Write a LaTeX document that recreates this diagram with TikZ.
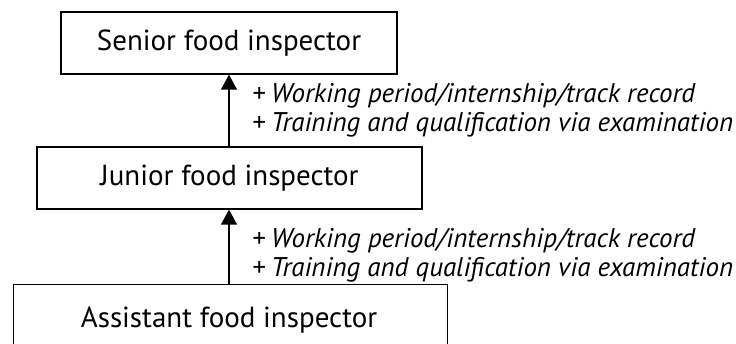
\documentclass[tikz,border=0pt]{standalone}
\usepackage{fontspec}
\setmainfont{PT Sans}
\usetikzlibrary{arrows.meta}
\begin{document}
\begin{tikzpicture}[x=1pt,y=-1pt,
  rank/.style={draw, line width=1.3pt, inner sep=0pt, font=\fontsize{29}{34}\selectfont},
  cond/.style={anchor=base west, inner sep=0pt, font=\fontsize{27}{32}\selectfont\itshape},
  up/.style={-{Triangle[length=15pt,width=16pt]}, line width=1.3pt}]
\useasboundingbox (0,0) rectangle (736,344);
\begin{scope}
\clip (0,0) rectangle (736,344);
\node[rank, minimum width=336pt, minimum height=62pt] (senior) at (229,43) {Senior food inspector};
\node[rank, minimum width=385pt, minimum height=62pt] (junior) at (229.5,178) {Junior food inspector};
\node[rank, minimum width=434pt, minimum height=80pt, anchor=north west] (assistant) at (13,284) {};
\node[font=\fontsize{29}{34}\selectfont, anchor=base] (asstext) at (229,328) {Assistant food inspector};
\end{scope}
\draw[up] (junior.north -| senior.south) -- (senior.south);
\coordinate (a2) at (229,284);
\draw[up] (a2) -- (a2 |- junior.south);
\node[cond] (c1) at (252,103) {+\hspace{6pt}Working period/internship/track record};
\node[cond] (c2) at (252,132) {+\hspace{6pt}Training and qualification via examination};
\node[cond] (c3) at (252,248) {+\hspace{6pt}Working period/internship/track record};
\node[cond] (c4) at (252,277) {+\hspace{6pt}Training and qualification via examination};
\end{tikzpicture}
\end{document}
